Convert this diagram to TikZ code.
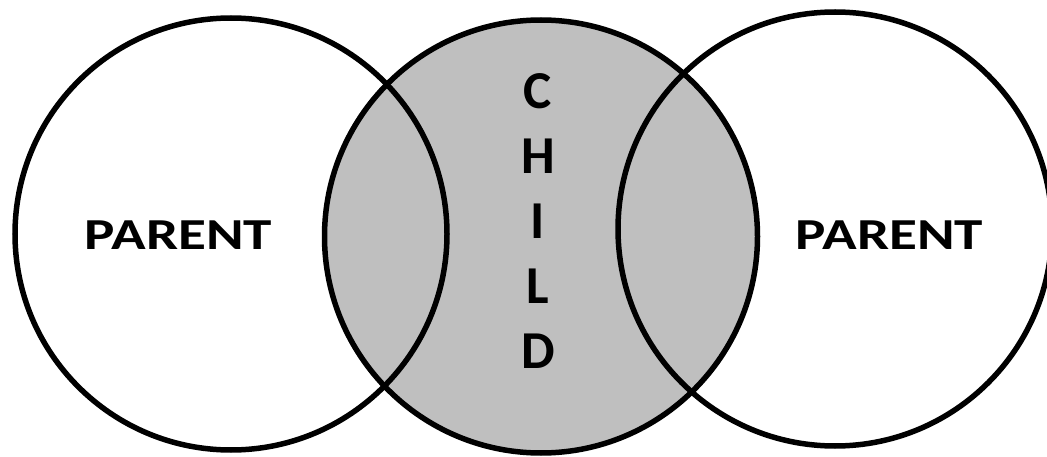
\documentclass[tikz,border=0pt]{standalone}
\usepackage{fontspec}
\setmainfont{Carlito}
\definecolor{lensgray}{RGB}{191,191,191}
\begin{document}
\begin{tikzpicture}[x=1pt,y=-1pt,
  ring/.style={draw=black,line width=5.5pt},
  parentlabel/.style={inner sep=0pt,font=\bfseries},
  childlabel/.style={inner sep=0pt,align=center,font=\fontsize{53.3pt}{65pt}\selectfont\bfseries}]
\useasboundingbox (0,0) rectangle (1047,457);
\clip (0,0) rectangle (1047,457);
\fill[lensgray] (541,236.5) circle[radius=216.5pt];
\draw[ring] (541,236.5) circle[radius=216.5pt];
\draw[ring] (231,234) circle[radius=216pt];
\draw[ring] (835,229) circle[radius=217pt];
\node[parentlabel] (pl) at (178.5,235) {\resizebox{187pt}{28.7pt}{PARENT}};
\node[parentlabel] (pr) at (889.5,235) {\resizebox{187pt}{28.7pt}{PARENT}};
\node[childlabel,anchor=north] (child) at (538,73.7) {C\\H\\I\\L\\D};
\end{tikzpicture}
\end{document}
